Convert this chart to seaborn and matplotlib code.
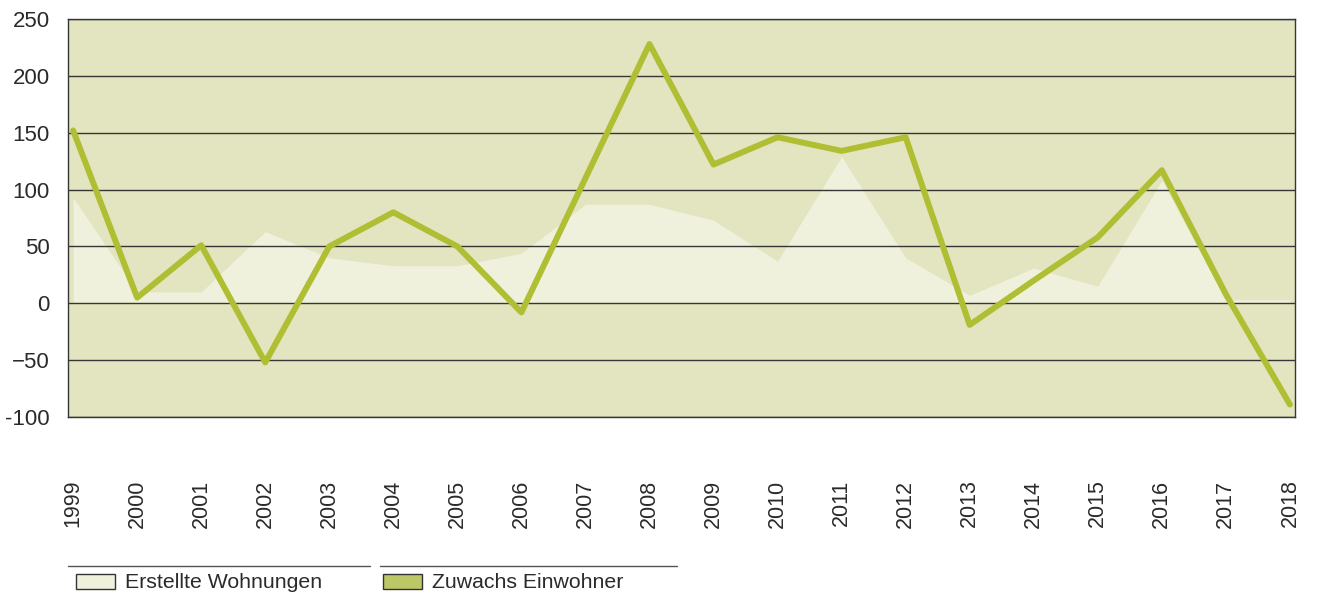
import numpy as np
import pandas as pd
import matplotlib
matplotlib.use("Agg")
import matplotlib.pyplot as plt
import seaborn as sns
from matplotlib.patches import Patch
from matplotlib.lines import Line2D

# ==================================================
# DATA
# ==================================================

years = list(range(1999, 2019))

wohnungen = [93, 10, 10, 63, 40, 33, 33, 44, 87, 87,
             73, 37, 129, 40, 7, 31, 15, 108, 3, 3]

einwohner = [152, 5, 51, -52, 50, 80, 50, -8, 110, 228,
             122, 146, 134, 146, -19, 20, 58, 117, 8, -89]

y_ticks = [250, 200, 150, 100, 50, 0, -50, -100]
y_tick_labels = ["250", "200", "150", "100", "50", "0", "\u221250", "-100"]

df = pd.DataFrame({"Jahr": years, "Wohnungen": wohnungen, "Einwohner": einwohner})

# ==================================================
# STYLE
# ==================================================

sns.set_style("white")
plt.rcParams["font.family"] = ["Liberation Sans", "DejaVu Sans"]

bg_color = "#e3e5c0"
area_color = "#eff1dc"
line_color = "#afbe33"
text_color = "#2a2a2a"

fig = plt.figure(figsize=(13.2, 5.98), dpi=100)
ax = fig.add_axes([68 / 1320, 1 - 417 / 598, (1295 - 68) / 1320, (417 - 19) / 598])
ax.set_facecolor(bg_color)

# ==================================================
# AREA + LINE
# ==================================================

ax.fill_between(df["Jahr"], 0, df["Wohnungen"], color=area_color, lw=0, zorder=1)

for t in y_ticks:
    ax.axhline(t, color="#363636", lw=1.0, zorder=2)

sns.lineplot(data=df, x="Jahr", y="Einwohner", color=line_color,
             linewidth=4.3, ax=ax, zorder=3)

ax.set_xlim(1999 - 0.08, 2018 + 0.08)
ax.set_ylim(-100, 250)

ax.set_yticks(y_ticks)
ax.set_yticklabels(y_tick_labels)
ax.set_xticks(years)
ax.set_xticklabels([str(y) for y in years], rotation=90)

ax.tick_params(axis="y", length=0, pad=13, labelsize=16, labelcolor=text_color)
ax.tick_params(axis="x", length=0, pad=45, labelsize=15.5, labelcolor=text_color)

ax.set_xlabel("")
ax.set_ylabel("")

for s in ax.spines.values():
    s.set_visible(True)
    s.set_color("#363636")
    s.set_linewidth(1.0)

# ==================================================
# LEGEND
# ==================================================

fig.add_artist(Line2D([68 / 1320, 370 / 1320], [1 - 566 / 598] * 2,
                      color="#555555", lw=1.0))
fig.add_artist(Line2D([380 / 1320, 677 / 1320], [1 - 566 / 598] * 2,
                      color="#555555", lw=1.0))

h1 = Patch(facecolor=area_color, edgecolor="#333333", lw=1.0)
h2 = Patch(facecolor="#bcc765", edgecolor="#333333", lw=1.0)

leg_kw = dict(loc="center left", frameon=False, fontsize=15.3,
              handlelength=1.85, handleheight=0.7, handletextpad=0.45,
              borderpad=0, borderaxespad=0)
leg1 = fig.legend([h1], ["Erstellte Wohnungen"],
                  bbox_to_anchor=(76 / 1320, 1 - 583 / 598), **leg_kw)
leg2 = fig.legend([h2], ["Zuwachs Einwohner"],
                  bbox_to_anchor=(383 / 1320, 1 - 583 / 598), **leg_kw)
for lg in (leg1, leg2):
    for txt in lg.get_texts():
        txt.set_color(text_color)

plt.savefig("out.png", dpi=100)
